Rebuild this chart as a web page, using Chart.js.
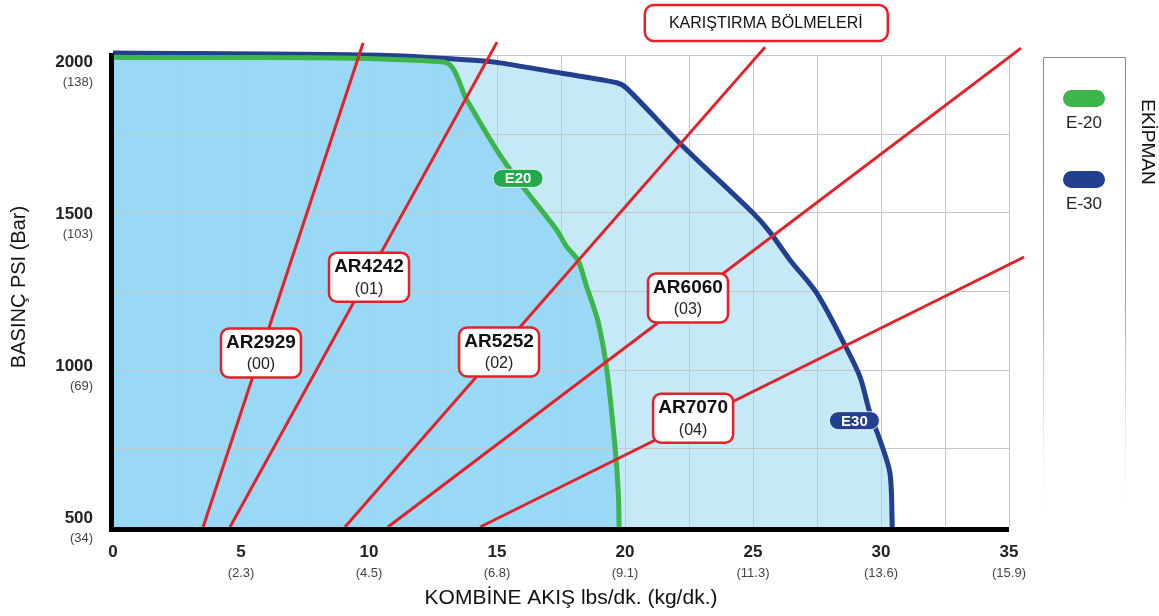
<!DOCTYPE html>
<html>
<head>
<meta charset="utf-8">
<script src="https://cdn.jsdelivr.net/npm/chart.js@4.4.0/dist/chart.umd.min.js"></script>
<style>
  html, body { margin: 0; padding: 0; background: #fff; }
  #wrap { width: 1159px; height: 616px; position: relative; }
</style>
</head>
<body>
<div id="wrap"><canvas id="chart"></canvas></div>
<script>
// equipment envelopes: flow (lbs/dk.) vs pressure (psi)
const e20Flow = [0, 12.93, 13.82, 14.99, 15.9, 17.33, 17.72, 18.16, 18.5, 18.95, 19.29, 19.61, 19.74, 19.77];
const e20Psi  = [1993, 1978, 1857, 1698, 1593, 1444, 1391, 1348, 1264, 1152, 999, 755, 608, 500];

const e30Flow = [0, 10.4, 14.34, 15.12, 17.53, 19.68, 20.07, 22.15, 25.01, 25.66, 26.45, 27.49, 28.59, 29.18, 29.57, 29.96, 30.35, 30.44];
const e30Psi  = [2006, 1999, 1982, 1975, 1942, 1912, 1894, 1719, 1497, 1437, 1348, 1243, 1078, 977, 862, 776, 671, 500];

// mixing chambers (karıştırma bölmeleri): straight lines from 500 psi
const mixerNames = ["AR2929", "AR4242", "AR5252", "AR6060", "AR7070"];
const mixerCodes = ["(00)", "(01)", "(02)", "(03)", "(04)"];
const mixerStartFlow = [3.52, 4.57, 9.06, 10.74, 14.34];
const mixerEndFlow = [9.77, 15.0, 25.47, 35.47, 35.59];
const mixerEndPsi = [2038, 2041, 2025, 2022, 1358];

// axis ticks
const xTicks = [0, 5, 10, 15, 20, 25, 30, 35];
const xTicksKg = ["", "(2.3)", "(4.5)", "(6.8)", "(9.1)", "(11.3)", "(13.6)", "(15.9)"];
const yTicks = [2000, 1500, 1000, 500];
const yTicksBar = ["(138)", "(103)", "(69)", "(34)"];

const RED = "#e42129";
const GREEN = "#3db54a";
const NAVY = "#233f8f";
const FONT = "'Liberation Sans', Arial, sans-serif";

function toPoints(xs, ys) {
  return xs.map((v, i) => ({ x: v, y: ys[i] }));
}

function roundRect(ctx, x, y, w, h, r) {
  ctx.beginPath();
  ctx.moveTo(x + r, y);
  ctx.lineTo(x + w - r, y);
  ctx.arcTo(x + w, y, x + w, y + r, r);
  ctx.lineTo(x + w, y + h - r);
  ctx.arcTo(x + w, y + h, x + w - r, y + h, r);
  ctx.lineTo(x + r, y + h);
  ctx.arcTo(x, y + h, x, y + h - r, r);
  ctx.lineTo(x, y + r);
  ctx.arcTo(x, y, x + r, y, r);
  ctx.closePath();
}

const mixerDatasets = mixerNames.map((name, i) => ({
  label: name,
  data: [{ x: mixerStartFlow[i], y: 500 }, { x: mixerEndFlow[i], y: mixerEndPsi[i] }],
  borderColor: RED,
  borderWidth: 3,
  pointRadius: 0,
  fill: false,
  clip: false
}));

// where the labels sit (data coords)
const mixerLabelAt = [[5.78, 1053], [10.0, 1294], [15.08, 1056], [22.46, 1228], [22.66, 846]];

// grid goes over the fills but under the lines
const gridUnder = {
  id: "gridUnder",
  beforeDatasetsDraw(chart) {
    const ctx = chart.ctx;
    const area = chart.chartArea;
    ctx.save();
    ctx.strokeStyle = "#c9c6c4";
    ctx.lineWidth = 1;
    ctx.beginPath();
    chart.scales.x.ticks.forEach(t => {
      const px = Math.round(chart.scales.x.getPixelForValue(t.value)) + 0.5;
      ctx.moveTo(px, area.top);
      ctx.lineTo(px, area.bottom);
    });
    chart.scales.y.ticks.forEach(t => {
      const py = Math.round(chart.scales.y.getPixelForValue(t.value)) + 0.5;
      ctx.moveTo(area.left, py);
      ctx.lineTo(area.right, py);
    });
    ctx.stroke();
    ctx.restore();
  }
};

const overlay = {
  id: "overlay",
  afterDraw(chart) {
    const ctx = chart.ctx;
    const x = chart.scales.x;
    const y = chart.scales.y;
    const area = chart.chartArea;
    ctx.save();
    ctx.textAlign = "center";
    ctx.textBaseline = "middle";

    // axis lines
    ctx.fillStyle = "#000";
    ctx.fillRect(area.left - 4, area.top - 2, 5, area.bottom - area.top + 6);
    ctx.fillRect(area.left - 4, area.bottom, area.right - area.left + 4, 5);

    // mixer label boxes
    mixerNames.forEach((name, i) => {
      const cx = x.getPixelForValue(mixerLabelAt[i][0]);
      const cy = y.getPixelForValue(mixerLabelAt[i][1]);
      roundRect(ctx, cx - 40, cy - 24.5, 80, 49, 8);
      ctx.fillStyle = "#fff";
      ctx.fill();
      ctx.lineWidth = 2.5;
      ctx.strokeStyle = RED;
      ctx.stroke();
      ctx.fillStyle = "#111";
      ctx.font = "bold 19px " + FONT;
      ctx.fillText(name, cx, cy - 10);
      ctx.font = "16px " + FONT;
      ctx.fillStyle = "#222";
      ctx.fillText(mixerCodes[i], cx, cy + 12);
    });

    // curve badges
    const badge = (fx, fy, text, color) => {
      const cx = x.getPixelForValue(fx);
      const cy = y.getPixelForValue(fy);
      roundRect(ctx, cx - 25, cy - 9, 50, 18, 9);
      ctx.fillStyle = color;
      ctx.fill();
      ctx.lineWidth = 1;
      ctx.strokeStyle = "rgba(255,255,255,0.8)";
      ctx.stroke();
      ctx.fillStyle = "#fff";
      ctx.font = "bold 15px " + FONT;
      ctx.fillText(text, cx, cy + 1);
    };
    badge(15.82, 1608, "E20", "#22a94b");
    badge(28.96, 838, "E30", NAVY);

    // title box
    const tx = x.getPixelForValue(25.5);
    roundRect(ctx, tx - 121, 5, 243, 36, 9);
    ctx.fillStyle = "#fff";
    ctx.fill();
    ctx.lineWidth = 2.5;
    ctx.strokeStyle = RED;
    ctx.stroke();
    ctx.fillStyle = "#111";
    ctx.font = "16px " + FONT;
    ctx.fillText("KARIŞTIRMA BÖLMELERİ", tx, 24);

    // x tick labels
    xTicks.forEach((v, i) => {
      const px = x.getPixelForValue(v);
      ctx.fillStyle = "#222";
      ctx.font = "bold 17px " + FONT;
      ctx.fillText(String(v), px, area.bottom + 25);
      ctx.fillStyle = "#444";
      ctx.font = "13px " + FONT;
      ctx.fillText(xTicksKg[i], px, area.bottom + 46);
    });

    // y tick labels
    ctx.textAlign = "right";
    yTicks.forEach((v, i) => {
      const py = area.top + (y.getPixelForValue(v) - area.top) * 0.966 + 7;
      ctx.fillStyle = "#222";
      ctx.font = "bold 17px " + FONT;
      ctx.fillText(String(v), 93, py);
      ctx.fillStyle = "#444";
      ctx.font = "13px " + FONT;
      ctx.fillText(yTicksBar[i], 93, py + 20);
    });

    // axis titles
    ctx.textAlign = "center";
    ctx.fillStyle = "#111";
    ctx.font = "21px " + FONT;
    ctx.fillText("KOMBİNE AKIŞ lbs/dk. (kg/dk.)", 571, 598);
    ctx.save();
    ctx.translate(19, 287);
    ctx.rotate(-Math.PI / 2);
    ctx.font = "20px " + FONT;
    ctx.fillText("BASINÇ PSI (Bar)", 0, 0);
    ctx.restore();

    // legend panel
    const grad = ctx.createLinearGradient(0, 57, 0, 545);
    grad.addColorStop(0, "#8a8a8a");
    grad.addColorStop(0.5, "#a0a0a0");
    grad.addColorStop(1, "rgba(255,255,255,0)");
    ctx.strokeStyle = grad;
    ctx.lineWidth = 1;
    ctx.beginPath();
    ctx.moveTo(1043.5, 545);
    ctx.lineTo(1043.5, 57.5);
    ctx.lineTo(1125.5, 57.5);
    ctx.lineTo(1125.5, 545);
    ctx.stroke();

    const legendItem = (cy, color, text) => {
      roundRect(ctx, 1063, cy - 8.5, 42, 17, 8.5);
      ctx.fillStyle = color;
      ctx.fill();
      ctx.fillStyle = "#222";
      ctx.font = "17px " + FONT;
      ctx.fillText(text, 1084, cy + 25);
    };
    legendItem(98.5, GREEN, "E-20");
    legendItem(179.5, NAVY, "E-30");

    ctx.save();
    ctx.translate(1147, 142);
    ctx.rotate(Math.PI / 2);
    ctx.fillStyle = "#111";
    ctx.font = "19px " + FONT;
    ctx.fillText("EKİPMAN", 0, 0);
    ctx.restore();

    ctx.restore();
  }
};

new Chart(document.getElementById("chart"), {
  type: "line",
  data: {
    datasets: [
      ...mixerDatasets,
      {
        label: "E-20",
        data: toPoints(e20Flow, e20Psi),
        borderColor: GREEN,
        borderWidth: 5,
        backgroundColor: "#99d9f6",
        fill: "start",
        pointRadius: 0,
        tension: 0.3,
        clip: false
      },
      {
        label: "E-30",
        data: toPoints(e30Flow, e30Psi),
        borderColor: NAVY,
        borderWidth: 5,
        backgroundColor: "#c6e9f8",
        fill: "start",
        pointRadius: 0,
        tension: 0.3,
        clip: false
      }
    ]
  },
  options: {
    responsive: true,
    maintainAspectRatio: false,
    animation: false,
    events: [],
    layout: { padding: { left: 113, right: 150, top: 55, bottom: 89 } },
    scales: {
      x: {
        type: "linear",
        min: 0,
        max: 35,
        ticks: { stepSize: 2.5, display: false },
        grid: { display: false, drawTicks: false },
        border: { display: false }
      },
      y: {
        type: "linear",
        min: 500,
        max: 2000,
        ticks: { stepSize: 250, display: false },
        grid: { display: false, drawTicks: false },
        border: { display: false }
      }
    },
    plugins: {
      legend: { display: false },
      tooltip: { enabled: false },
      filler: { drawTime: "beforeDatasetsDraw" }
    }
  },
  plugins: [gridUnder, overlay]
});
</script>
</body>
</html>
